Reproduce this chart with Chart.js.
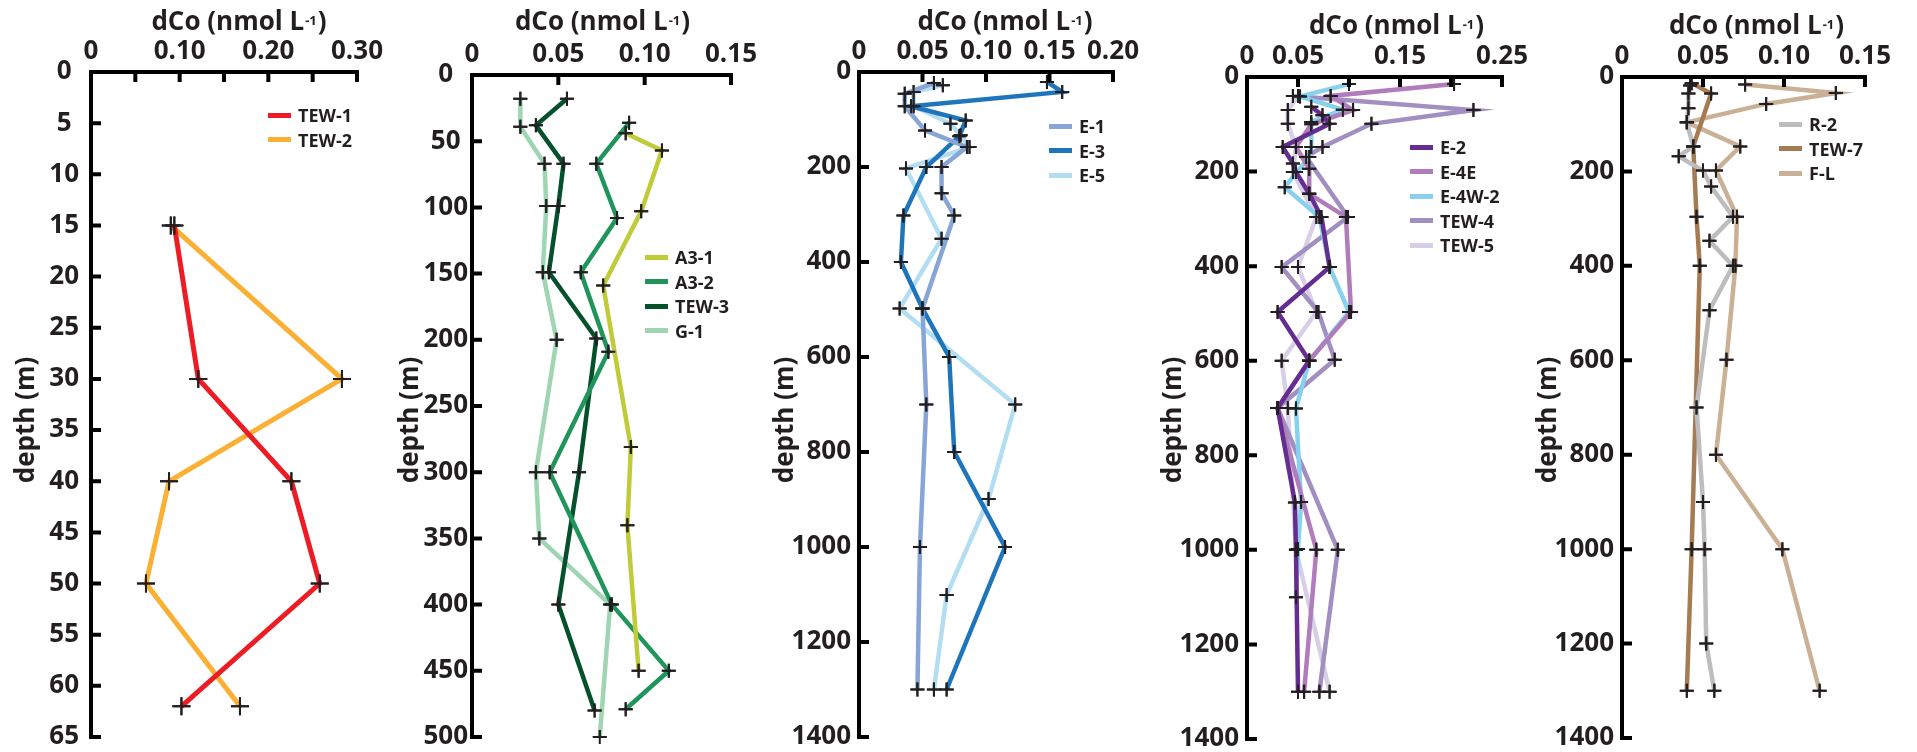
<!DOCTYPE html>
<html>
<head>
<meta charset="utf-8">
<script src="https://cdn.jsdelivr.net/npm/chart.js@4.4.1/dist/chart.umd.min.js"></script>
<style>
  html, body { margin: 0; padding: 0; background: #fff; }
  #page { position: relative; width: 1917px; height: 752px; overflow: hidden; }
  #page canvas { position: absolute; top: 0; }
  .legend { position: absolute; font: bold 18px 'Open Sans', sans-serif; color: #231f20; }
  .legend .row { height: 24.5px; display: flex; align-items: center; white-space: nowrap; }
  .legend .sw { display: inline-block; width: 23px; height: 5px; margin-right: 7px; }
</style>
</head>
<body>
<div id="page"></div>
<script>
// dCo depth profiles, 5 panels

// --- data (depth in m, dCo in nmol/L) ---
// panel 1
const tew1Depth = [15, 30, 40, 50, 62];
const tew1Co    = [0.094, 0.121, 0.226, 0.258, 0.102];
const tew2Depth = [15, 30, 40, 50, 62];
const tew2Co    = [0.090, 0.283, 0.088, 0.062, 0.168];

// panel 2
const a31Depth  = [44, 57, 103, 159, 281, 340, 450];
const a31Co     = [0.089, 0.110, 0.098, 0.076, 0.092, 0.090, 0.0965];
const a32Depth  = [36, 67, 108, 149, 209, 300, 400, 450, 479];
const a32Co     = [0.091, 0.072, 0.084, 0.063, 0.079, 0.045, 0.081, 0.114, 0.089];
const tew3Depth = [18, 38, 67, 99, 149, 199, 300, 400, 480];
const tew3Co    = [0.055, 0.037, 0.053, 0.050, 0.0445, 0.072, 0.062, 0.050, 0.071];
const g1Depth   = [18, 39, 67, 99, 149, 200, 300, 350, 400, 500];
const g1Co      = [0.028, 0.028, 0.042, 0.043, 0.041, 0.049, 0.037, 0.039, 0.080, 0.074];

// panel 3
const e1Depth = [23, 46, 72, 123, 158, 200, 255, 302, 498, 700, 1000, 1300];
const e1Co    = [0.059, 0.036, 0.036, 0.052, 0.085, 0.065, 0.065, 0.075, 0.050, 0.053, 0.048, 0.046];
const e3Depth = [21, 42, 72, 102, 135, 200, 302, 400, 498, 600, 800, 1000, 1300];
const e3Co    = [0.148, 0.160, 0.041, 0.084, 0.079, 0.053, 0.035, 0.033, 0.050, 0.071, 0.075, 0.115, 0.069];
const e5Depth = [28, 42, 72, 109, 133, 158, 203, 351, 498, 700, 899, 1101, 1300];
const e5Co    = [0.066, 0.043, 0.043, 0.072, 0.080, 0.087, 0.037, 0.065, 0.032, 0.123, 0.102, 0.069, 0.059];

// panel 4
const e2Depth   = [63, 81, 99, 148, 183, 201, 247, 296, 402, 497, 600, 700, 900, 1000, 1300];
const e2Co      = [0.063, 0.074, 0.081, 0.035, 0.045, 0.048, 0.061, 0.073, 0.081, 0.030, 0.061, 0.030, 0.047, 0.048, 0.050];
const e4eDepth  = [15, 40, 70, 100, 148, 194, 247, 296, 497, 600, 700, 1000, 1300];
const e4eCo     = [0.203, 0.082, 0.104, 0.063, 0.048, 0.061, 0.061, 0.097, 0.102, 0.061, 0.030, 0.068, 0.056];
const e4w2Depth = [15, 41, 69, 95, 148, 169, 233, 296, 402, 497, 600, 701, 899, 998, 1100];
const e4w2Co    = [0.100, 0.052, 0.094, 0.063, 0.063, 0.061, 0.037, 0.071, 0.081, 0.100, 0.061, 0.048, 0.053, 0.050, 0.048];
const tew4Depth = [40, 70, 99, 148, 169, 296, 402, 497, 598, 700, 1000, 1300];
const tew4Co    = [0.045, 0.222, 0.122, 0.074, 0.058, 0.099, 0.034, 0.070, 0.086, 0.030, 0.089, 0.071];
const tew5Depth = [40, 70, 99, 148, 201, 296, 402, 497, 600, 700, 1000, 1300];
const tew5Co    = [0.050, 0.040, 0.040, 0.048, 0.045, 0.068, 0.050, 0.068, 0.034, 0.040, 0.048, 0.081];

// panel 5
const r2Depth   = [18, 35, 66, 96, 147, 168, 198, 232, 296, 347, 400, 494, 700, 900, 1000, 1200, 1300];
const r2Co      = [0.042, 0.041, 0.041, 0.040, 0.044, 0.035, 0.050, 0.055, 0.0685, 0.054, 0.0685, 0.054, 0.046, 0.050, 0.051, 0.052, 0.057];
const tew7Depth = [13, 35, 147, 296, 400, 1000, 1300];
const tew7Co    = [0.043, 0.055, 0.044, 0.046, 0.048, 0.043, 0.040];
const flDepth   = [16, 34, 57, 96, 147, 198, 296, 400, 599, 800, 1000, 1300];
const flCo      = [0.076, 0.132, 0.089, 0.040, 0.073, 0.058, 0.071, 0.070, 0.0645, 0.058, 0.099, 0.122];

// labelled x ticks (other ticks at 0.05 steps are left blank)
const p1XLabelled = [0, 0.10, 0.20, 0.30];
const p4XLabelled = [0, 0.05, 0.15, 0.25];

// axis titles
const xTitleMain = 'dCo (nmol L';
const xTitleSup = '-1';
const xTitleEnd = ')';
const yTitle = 'depth (m)';

// --- look ---
Chart.defaults.font.family = "'Open Sans', sans-serif";
Chart.defaults.color = '#231f20';

const tickFont = { size: 26, weight: 'bold' };
const yAxisW = 90, rightPad = 30, canvasH = 800;

const panels = [
  { plot: [91, 72, 358, 737], xMax: 0.30, xLabels: p1XLabelled, yMax: 65, yStep: 5,
    yAlign: 'center', yPad: 12, radius: 9, lineW: 5,
    xShift: 14, xGap: 42.5, yOff: 64, legendAt: [268, 115],
    series: [
      { label: 'TEW-1', color: '#ed1c24', depth: tew1Depth, co: tew1Co },
      { label: 'TEW-2', color: '#fbb034', depth: tew2Depth, co: tew2Co }
    ] },
  { plot: [472, 75, 732, 737], xMax: 0.15, yMax: 500, yStep: 50,
    yAlign: 'center', yPad: 4, radius: 7, lineW: 4.5,
    xShift: 0, xGap: 45, yOff: 61, legendAt: [645, 257],
    series: [
      { label: 'A3-1', color: '#bfcb37', depth: a31Depth, co: a31Co },
      { label: 'A3-2', color: '#1f955c', depth: a32Depth, co: a32Co },
      { label: 'TEW-3', color: '#05512c', depth: tew3Depth, co: tew3Co },
      { label: 'G-1', color: '#9fd5b3', depth: g1Depth, co: g1Co }
    ] },
  { plot: [858.5, 72, 1113, 737], xMax: 0.20, yMax: 1400, yStep: 200,
    yAlign: 'near', yPad: 8, radius: 7, lineW: 4.5,
    xShift: 18, xGap: 42.5, yOff: 73, legendAt: [1049, 126],
    series: [
      { label: 'E-1', color: '#87a5d6', depth: e1Depth, co: e1Co },
      { label: 'E-3', color: '#1f75bc', depth: e3Depth, co: e3Co },
      { label: 'E-5', color: '#b3def2', depth: e5Depth, co: e5Co }
    ] },
  { plot: [1247, 77, 1503, 739], xMax: 0.25, xLabels: p4XLabelled, yMax: 1400, yStep: 200,
    yAlign: 'near', yPad: 8, radius: 7, lineW: 4.5,
    xShift: 21, xGap: 43.5, yOff: 73, legendAt: [1410, 147],
    series: [
      { label: 'E-2', color: '#662d91', depth: e2Depth, co: e2Co },
      { label: 'E-4E', color: '#b07cbb', depth: e4eDepth, co: e4eCo },
      { label: 'E-4W-2', color: '#88d1ee', depth: e4w2Depth, co: e4w2Co },
      { label: 'TEW-4', color: '#a08fc0', depth: tew4Depth, co: tew4Co },
      { label: 'TEW-5', color: '#d7cee7', depth: tew5Depth, co: tew5Co }
    ] },
  { plot: [1622, 77, 1866, 738], xMax: 0.15, yMax: 1400, yStep: 200,
    yAlign: 'near', yPad: 8, radius: 7, lineW: 4.5,
    xShift: 12, xGap: 43.5, yOff: 73, legendAt: [1779, 124],
    series: [
      { label: 'R-2', color: '#bdbdbd', depth: r2Depth, co: r2Co },
      { label: 'TEW-7', color: '#a57b54', depth: tew7Depth, co: tew7Co },
      { label: 'F-L', color: '#cab095', depth: flDepth, co: flCo }
    ] }
];

// axes drawn by hand: thick lines, inward ticks, offset titles
const profileAxes = {
  id: 'profileAxes',
  afterDatasetsDraw(chart) {
    // crosses on top of every line
    const ctx = chart.ctx;
    chart.getSortedVisibleDatasetMetas().forEach(m => m.data.forEach(pt => pt.draw(ctx, chart.chartArea)));
  },
  afterDraw(chart, args, opts) {
    const { ctx, chartArea: a, scales: { x, y } } = chart;
    ctx.save();
    ctx.strokeStyle = '#000';
    ctx.lineWidth = 4;
    ctx.lineCap = 'butt';
    ctx.beginPath();
    ctx.moveTo(a.left - 2, a.top); ctx.lineTo(a.right + 2, a.top);
    ctx.moveTo(a.left, a.top); ctx.lineTo(a.left, a.bottom + 2);
    x.ticks.forEach(t => {
      const px = x.getPixelForValue(t.value);
      ctx.moveTo(px, a.top); ctx.lineTo(px, a.top + 10);
    });
    y.ticks.forEach(t => {
      const py = y.getPixelForValue(t.value);
      ctx.moveTo(a.left, py); ctx.lineTo(a.left + 10, py);
    });
    ctx.stroke();

    // top title with superscript
    ctx.fillStyle = '#231f20';
    const big = "bold 26px 'Open Sans', sans-serif";
    const small = "bold 13px 'Open Sans', sans-serif";
    ctx.font = big;
    const w1 = ctx.measureText(xTitleMain).width;
    const w3 = ctx.measureText(xTitleEnd).width;
    ctx.font = small;
    const w2 = ctx.measureText(xTitleSup).width;
    let tx = (a.left + a.right) / 2 + opts.xShift - (w1 + w2 + w3) / 2;
    const ty = a.top - opts.xGap;
    ctx.textBaseline = 'alphabetic';
    ctx.textAlign = 'left';
    ctx.font = big;
    ctx.fillText(xTitleMain, tx, ty);
    tx += w1;
    ctx.font = small;
    ctx.fillText(xTitleSup, tx + 1, ty - 5);
    tx += w2 + 2;
    ctx.font = big;
    ctx.fillText(xTitleEnd, tx, ty);

    // side title
    ctx.translate(a.left - opts.yOff, 420);
    ctx.rotate(-Math.PI / 2);
    ctx.textAlign = 'center';
    ctx.textBaseline = 'middle';
    ctx.fillText(yTitle, 0, 0);
    ctx.restore();
  }
};

function fmtCo(v) {
  return v === 0 ? '0' : v.toFixed(2);
}

function makePanel(p) {
  const page = document.getElementById('page');
  const [pl, pt, pr, pb] = p.plot;
  const left = pl - yAxisW;
  const width = Math.round(pr - left + rightPad);

  const canvas = document.createElement('canvas');
  canvas.width = width;
  canvas.height = canvasH;
  canvas.style.left = left + 'px';
  canvas.style.width = width + 'px';
  canvas.style.height = canvasH + 'px';
  page.appendChild(canvas);

  new Chart(canvas, {
    type: 'scatter',
    data: {
      datasets: p.series.map(s => ({
        label: s.label,
        data: s.depth.map((d, i) => ({ x: s.co[i], y: d })),
        showLine: true,
        borderColor: s.color,
        backgroundColor: s.color,
        borderWidth: p.lineW,
        borderJoinStyle: 'miter',
        borderCapStyle: 'butt',
        pointStyle: 'cross',
        pointRadius: p.radius,
        pointHoverRadius: p.radius,
        pointBorderColor: '#231f20',
        pointBackgroundColor: '#231f20',
        pointBorderWidth: 2
      }))
    },
    options: {
      responsive: false,
      animation: false,
      devicePixelRatio: 1,
      events: [],
      layout: { padding: { left: 0, top: 0, right: rightPad, bottom: canvasH - pb } },
      plugins: {
        legend: { display: false },
        tooltip: { enabled: false },
        profileAxes: { xShift: p.xShift, xGap: p.xGap, yOff: p.yOff }
      },
      scales: {
        x: {
          type: 'linear', position: 'top', min: 0, max: p.xMax,
          grid: { display: false, drawTicks: false },
          border: { display: false },
          ticks: {
            stepSize: 0.05, autoSkip: false, maxRotation: 0, padding: 5, font: tickFont,
            callback: v => {
              if (p.xLabels && !p.xLabels.some(l => Math.abs(l - v) < 1e-6)) return '';
              return fmtCo(v);
            }
          },
          afterFit: s => { s.height = pt; }
        },
        y: {
          type: 'linear', reverse: true, min: 0, max: p.yMax,
          grid: { display: false, drawTicks: false },
          border: { display: false },
          ticks: {
            stepSize: p.yStep, autoSkip: false, padding: p.yPad, crossAlign: p.yAlign, font: tickFont,
            callback: v => String(v)
          },
          afterFit: s => { s.width = yAxisW; }
        }
      }
    },
    plugins: [profileAxes]
  });

  // legend
  const lg = document.createElement('div');
  lg.className = 'legend';
  lg.style.left = p.legendAt[0] + 'px';
  lg.style.top = (p.legendAt[1] - 12.25) + 'px';
  p.series.forEach(s => {
    const row = document.createElement('div');
    row.className = 'row';
    row.innerHTML = '<span class="sw" style="background:' + s.color + '"></span>' + s.label;
    lg.appendChild(row);
  });
  page.appendChild(lg);
}

document.addEventListener('DOMContentLoaded', function() {
  panels.forEach(makePanel);
});
</script>
</body>
</html>
